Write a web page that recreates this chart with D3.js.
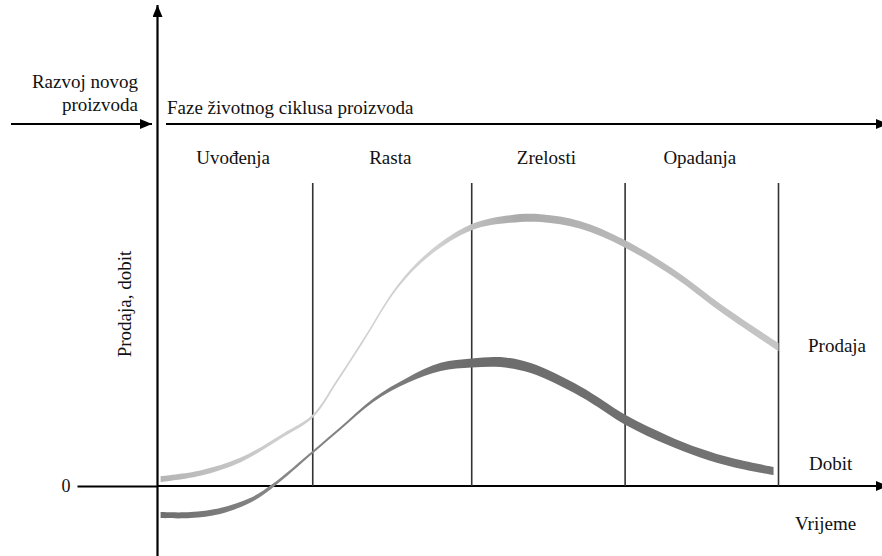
<!DOCTYPE html>
<html><head><meta charset="utf-8">
<script src="https://cdn.jsdelivr.net/npm/d3@7"></script>
<style>
html,body{margin:0;padding:0;background:#fff;}
svg{display:block;font-family:"Liberation Serif","Times New Roman",serif;}
</style></head>
<body>
<svg id="chart" width="882" height="556"></svg>
<script>
// ---- data ----
const phases = ["Uvođenja", "Rasta", "Zrelosti", "Opadanja"];
const phaseBounds = [0, 25, 50.6, 75.3, 100];
const prodajaT = [0.5, 6.9, 13.4, 20.3, 25, 29, 33.2, 38.6, 43.9, 50.6, 56.8, 61.7, 68.1, 75, 83.1, 91.1, 100];
const prodajaV = [2.3, 4.3, 8.7, 17, 23.3, 35.3, 48.7, 66.3, 77.7, 86.3, 89, 89.3, 87, 81, 71, 58.7, 46.3];
const dobitT = [0.5, 5.3, 10.1, 15, 18.5, 25, 29.5, 34.8, 40.3, 45.6, 50.6, 55.2, 60.1, 68.1, 75.4, 82.1, 87.4, 92.8, 99.2];
const dobitV = [-9.7, -9.7, -8.3, -4.7, 0, 11.3, 19.3, 28.7, 35.3, 39.7, 41, 41.3, 39.3, 31.5, 22, 15.3, 11, 7.7, 5];
const yTicks = [0];
const texts = {
  dev1: "Razvoj novog", dev2: "proizvoda",
  phasesTitle: "Faze životnog ciklusa proizvoda",
  yLabel: "Prodaja, dobit", xLabel: "Vrijeme",
  prodaja: "Prodaja", dobit: "Dobit"
};

// ---- drawing ----
const svg = d3.select("#chart");
const x = d3.scaleLinear().domain([0, 100]).range([157.5, 778.5]);
const y = d3.scaleLinear().domain([-10, 100]).range([516, 186]);
const FONT = 19;

const defs = svg.append("defs");
defs.append("marker").attr("id", "arr").attr("viewBox", "0 0 12 10")
  .attr("refX", 12).attr("refY", 5).attr("markerWidth", 12).attr("markerHeight", 10)
  .attr("markerUnits", "userSpaceOnUse").attr("orient", "auto")
  .append("path").attr("d", "M0,0 L12,5 L0,10 Z").attr("fill", "#000");

const gradP = defs.append("linearGradient").attr("id", "gP")
  .attr("gradientUnits", "userSpaceOnUse").attr("x1", x(0)).attr("x2", x(100)).attr("y1", 0).attr("y2", 0);
[[0, "#b4b4b4"], [0.2, "#cfcfcf"], [0.45, "#d0d0d0"], [0.58, "#aaaaaa"], [0.72, "#b6b6b6"], [1, "#c6c6c6"]]
  .forEach(([o, c]) => gradP.append("stop").attr("offset", o).attr("stop-color", c));
const gradD = defs.append("linearGradient").attr("id", "gD")
  .attr("gradientUnits", "userSpaceOnUse").attr("x1", x(0)).attr("x2", x(100)).attr("y1", 0).attr("y2", 0);
[[0, "#6e6e6e"], [0.2, "#888888"], [0.4, "#7a7a7a"], [0.5, "#6c6c6c"], [1, "#747474"]]
  .forEach(([o, c]) => gradD.append("stop").attr("offset", o).attr("stop-color", c));

const yTop = 124;
svg.append("line").attr("x1", 11).attr("x2", 152).attr("y1", yTop).attr("y2", yTop)
  .attr("stroke", "#000").attr("stroke-width", 2).attr("marker-end", "url(#arr)");
svg.append("line").attr("x1", 166).attr("x2", 888).attr("y1", yTop).attr("y2", yTop)
  .attr("stroke", "#000").attr("stroke-width", 2).attr("marker-end", "url(#arr)");

svg.append("line").attr("x1", x(0)).attr("x2", 888).attr("y1", y(0)).attr("y2", y(0))
  .attr("stroke", "#000").attr("stroke-width", 2).attr("marker-end", "url(#arr)");

const yAxis = svg.append("g").attr("transform", `translate(${x(0)},0)`)
  .call(d3.axisLeft(y).tickValues(yTicks).tickSize(80).tickPadding(7).tickFormat(d3.format("d")));
yAxis.select(".domain").remove();
yAxis.selectAll(".tick line").attr("stroke", "#000").attr("stroke-width", 2);
yAxis.selectAll(".tick text").attr("font-size", 18).attr("font-family", "Liberation Serif").attr("fill", "#111");

svg.append("line").attr("x1", x(0)).attr("x2", x(0)).attr("y1", 556).attr("y2", 5)
  .attr("stroke", "#000").attr("stroke-width", 2.2).attr("marker-end", "url(#arr)");

svg.append("g").selectAll("line").data(phaseBounds.slice(1)).join("line")
  .attr("x1", d => x(d)).attr("x2", d => x(d)).attr("y1", 183).attr("y2", y(0))
  .attr("stroke", "#333").attr("stroke-width", 1.6);

svg.append("g").selectAll("text").data(phases).join("text")
  .attr("x", (d, i) => (x(phaseBounds[i]) + x(phaseBounds[i + 1])) / 2 - 2)
  .attr("y", 164).attr("text-anchor", "middle").attr("font-size", FONT).attr("fill", "#111")
  .text(d => d);

function band(ts, vs, widthScale, fill) {
  const pts = ts.map((t, i) => ({ t, v: vs[i] }));
  const area = d3.area().curve(d3.curveCatmullRom.alpha(0.5))
    .x(d => x(d.t))
    .y0(d => y(d.v) - widthScale(d.t) / 2)
    .y1(d => y(d.v) + widthScale(d.t) / 2);
  svg.append("path").attr("d", area(pts)).attr("fill", fill);
}
const wP = d3.scaleLinear().domain([0, 10, 22, 30, 40, 50, 58, 75, 100]).range([6, 5, 3.5, 3, 3.5, 6, 8, 7.5, 8]);
const wD = d3.scaleLinear().domain([0, 10, 20, 28, 38, 45, 55, 75, 100]).range([6, 6, 3.5, 2.5, 4, 8, 10, 10, 8]);
band(prodajaT, prodajaV, wP, "url(#gP)");
band(dobitT, dobitV, wD, "url(#gD)");

function txt(s, xx, yy, anchor, extra) {
  const t = svg.append("text").attr("x", xx).attr("y", yy).attr("font-size", FONT)
    .attr("fill", "#111").attr("text-anchor", anchor || "start").text(s);
  if (extra) extra(t);
  return t;
}
txt(texts.dev1, 138, 88, "end");
txt(texts.dev2, 138, 111, "end");
txt(texts.phasesTitle, 167, 114);
txt(texts.prodaja, 808, 352);
txt(texts.dobit, 809, 470);
txt(texts.xLabel, 795, 530);
txt(texts.yLabel, 0, 0, "middle", t => t.attr("transform", "translate(131,304) rotate(-90)"));
</script>
</body></html>
